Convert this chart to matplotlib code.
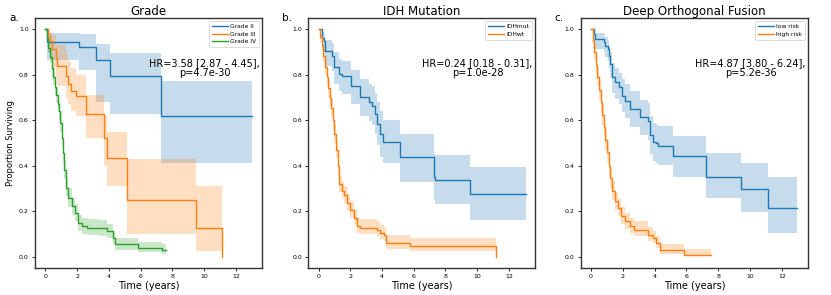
import matplotlib
matplotlib.use("Agg")
import matplotlib.pyplot as plt

# ---------------- Data ----------------
# Panel a: Grade
g2_t  = [0, 0.1, 2.14, 3.17, 4.08, 7.29, 13.0]
g2_s  = [1.0, 0.945, 0.923, 0.865, 0.797, 0.62, 0.62]
g2_lo = [1.0, 0.865, 0.82, 0.68, 0.626, 0.41, 0.41]
g2_hi = [1.0, 0.985, 0.98, 0.937, 0.894, 0.772, 0.772]

g3_t  = [0, 0.15, 0.3, 0.45, 0.65, 0.72, 1.28, 1.45, 1.62, 1.91, 2.55, 3.7, 3.87, 5.13, 9.52, 11.15]
g3_s  = [1.0, 0.971, 0.949, 0.913, 0.876, 0.84, 0.796, 0.76, 0.73, 0.709, 0.629, 0.52, 0.432, 0.25, 0.125, 0.0]
g3_lo = [1.0, 0.90, 0.87, 0.83, 0.79, 0.75, 0.70, 0.67, 0.64, 0.62, 0.52, 0.40, 0.31, 0.10, 0.025, 0.025]
g3_hi = [1.0, 0.995, 0.99, 0.975, 0.95, 0.93, 0.89, 0.86, 0.83, 0.80, 0.71, 0.62, 0.55, 0.43, 0.31, 0.31]

g4_t  = [0, 0.1, 0.19, 0.3, 0.4, 0.5, 0.61, 0.7, 0.8, 0.86, 0.95, 1.05, 1.14, 1.2, 1.28, 1.45,
         1.66, 1.87, 2.08, 2.29, 2.6, 3.45, 3.87, 4.29, 4.39, 5.86, 7.33, 7.59]
g4_s  = [1.0, 0.96, 0.92, 0.88, 0.83, 0.79, 0.745, 0.71, 0.67, 0.643, 0.59, 0.52, 0.454, 0.38, 0.304, 0.258,
         0.221, 0.192, 0.148, 0.134, 0.128, 0.125, 0.112, 0.083, 0.054, 0.039, 0.029, 0.029]
g4_hi = [1.0, 0.975, 0.945, 0.91, 0.865, 0.825, 0.78, 0.745, 0.705, 0.68, 0.63, 0.56, 0.495, 0.42, 0.345, 0.30,
         0.26, 0.23, 0.185, 0.17, 0.165, 0.16, 0.145, 0.115, 0.08, 0.065, 0.055, 0.055]
g4_lo = [1.0, 0.94, 0.895, 0.85, 0.795, 0.755, 0.71, 0.675, 0.635, 0.605, 0.55, 0.48, 0.415, 0.34, 0.265, 0.22,
         0.185, 0.155, 0.115, 0.10, 0.095, 0.092, 0.08, 0.055, 0.03, 0.02, 0.012, 0.012]

# Panel b: IDH mutation
mut_t  = [0, 0.21, 0.32, 0.42, 0.85, 0.95, 1.26, 1.48, 2.04, 2.63, 3.16, 3.37, 3.58, 3.69, 3.85, 4.07,
          5.16, 7.31, 7.37, 9.54, 13.06]
mut_s  = [1.0, 0.964, 0.95, 0.905, 0.884, 0.833, 0.803, 0.793, 0.75, 0.702, 0.68, 0.665, 0.629, 0.585, 0.541, 0.505,
          0.44, 0.352, 0.338, 0.275, 0.275]
mut_hi = [1.0, 0.99, 0.985, 0.955, 0.94, 0.9, 0.87, 0.86, 0.82, 0.78, 0.76, 0.75, 0.72, 0.68, 0.64, 0.6,
          0.54, 0.45, 0.447, 0.396, 0.396]
mut_lo = [1.0, 0.92, 0.9, 0.84, 0.815, 0.76, 0.73, 0.715, 0.67, 0.62, 0.595, 0.58, 0.54, 0.49, 0.44, 0.41,
          0.33, 0.25, 0.23, 0.163, 0.163]

wt_t  = [0, 0.1, 0.2, 0.3, 0.4, 0.5, 0.6, 0.7, 0.8, 0.9, 1.0, 1.1, 1.2, 1.3, 1.45, 1.58, 1.79, 2.0, 2.21,
         2.42, 2.63, 3.69, 3.9, 4.1, 4.28, 5.79, 11.16]
wt_s  = [1.0, 0.965, 0.93, 0.885, 0.835, 0.79, 0.74, 0.70, 0.655, 0.60, 0.54, 0.47, 0.40, 0.32, 0.29, 0.272,
         0.236, 0.207, 0.17, 0.134, 0.127, 0.119, 0.105, 0.095, 0.061, 0.047, 0.0]
wt_hi = [1.0, 0.98, 0.95, 0.91, 0.865, 0.82, 0.775, 0.735, 0.69, 0.64, 0.58, 0.51, 0.44, 0.36, 0.33, 0.31,
         0.275, 0.245, 0.205, 0.17, 0.165, 0.155, 0.14, 0.13, 0.095, 0.083, 0.083]
wt_lo = [1.0, 0.945, 0.905, 0.855, 0.80, 0.755, 0.70, 0.66, 0.615, 0.56, 0.50, 0.43, 0.36, 0.285, 0.255, 0.235,
         0.2, 0.172, 0.138, 0.104, 0.098, 0.09, 0.078, 0.068, 0.035, 0.025, 0.025]

# Panel c: Deep Orthogonal Fusion
low_t  = [0, 0.16, 0.27, 0.79, 0.9, 1.04, 1.1, 1.21, 1.31, 1.52, 1.73, 1.94, 2.14, 2.46, 3.08, 3.6, 3.7,
          3.91, 4.1, 4.23, 5.16, 7.25, 9.42, 11.1, 12.94]
low_s  = [1.0, 0.978, 0.956, 0.945, 0.927, 0.913, 0.884, 0.847, 0.789, 0.767, 0.745, 0.709, 0.687, 0.651,
          0.614, 0.595, 0.534, 0.505, 0.498, 0.488, 0.444, 0.352, 0.298, 0.214, 0.214]
low_hi = [1.0, 0.995, 0.985, 0.98, 0.965, 0.955, 0.93, 0.9, 0.85, 0.83, 0.81, 0.78, 0.76, 0.73, 0.69, 0.675,
          0.62, 0.59, 0.583, 0.575, 0.53, 0.454, 0.41, 0.352, 0.352]
low_lo = [1.0, 0.94, 0.915, 0.9, 0.88, 0.86, 0.83, 0.79, 0.72, 0.695, 0.67, 0.635, 0.61, 0.57, 0.535, 0.515,
          0.45, 0.42, 0.41, 0.403, 0.352, 0.258, 0.196, 0.102, 0.102]

high_t  = [0, 0.1, 0.2, 0.3, 0.4, 0.5, 0.6, 0.7, 0.8, 0.9, 1.0, 1.1, 1.2, 1.3, 1.5, 1.7, 1.9, 2.14, 2.46,
           2.67, 3.6, 3.91, 4.1, 4.33, 5.85, 7.56]
high_s  = [1.0, 0.95, 0.9, 0.845, 0.79, 0.735, 0.68, 0.625, 0.57, 0.515, 0.46, 0.40, 0.345, 0.29, 0.245,
           0.214, 0.18, 0.156, 0.134, 0.119, 0.097, 0.083, 0.061, 0.028, 0.007, 0.007]
high_hi = [1.0, 0.97, 0.93, 0.88, 0.83, 0.78, 0.725, 0.67, 0.615, 0.56, 0.505, 0.445, 0.39, 0.335, 0.285,
           0.255, 0.22, 0.19, 0.17, 0.155, 0.13, 0.115, 0.09, 0.055, 0.035, 0.035]
high_lo = [1.0, 0.92, 0.865, 0.81, 0.75, 0.69, 0.635, 0.58, 0.525, 0.47, 0.415, 0.355, 0.30, 0.25, 0.205,
           0.177, 0.145, 0.122, 0.103, 0.09, 0.07, 0.058, 0.038, 0.012, 0.001, 0.001]

titles = ["Grade", "IDH Mutation", "Deep Orthogonal Fusion"]
panel_labels = ["a.", "b.", "c."]
hr_texts = ["HR=3.58 [2.87 - 4.45],\np=4.7e-30",
            "HR=0.24 [0.18 - 0.31],\np=1.0e-28",
            "HR=4.87 [3.80 - 6.24],\np=5.2e-36"]
x_ticks = [0, 2, 4, 6, 8, 10, 12]
y_ticks = [0.0, 0.2, 0.4, 0.6, 0.8, 1.0]

panels = [
    [("Grade II", g2_t, g2_s, g2_lo, g2_hi),
     ("Grade III", g3_t, g3_s, g3_lo, g3_hi),
     ("Grade IV", g4_t, g4_s, g4_lo, g4_hi)],
    [("IDHmut", mut_t, mut_s, mut_lo, mut_hi),
     ("IDHwt", wt_t, wt_s, wt_lo, wt_hi)],
    [("low risk", low_t, low_s, low_lo, low_hi),
     ("high risk", high_t, high_s, high_lo, high_hi)],
]
colors = ["#1f77b4", "#ff7f0e", "#2ca02c"]

# ---------------- Figure ----------------
W, H = 831, 295
fig = plt.figure(figsize=(W / 100, H / 100), dpi=100)
lefts = [35, 308.3, 580.7]
widths = [227, 226.7, 227.5]
ax_bottom, ax_top = 268, 18

for i in range(3):
    ax = fig.add_axes([lefts[i] / W, (H - ax_bottom) / H, widths[i] / W, (ax_bottom - ax_top) / H])
    for j, (name, t, s, lo, hi) in enumerate(panels[i]):
        c = colors[j]
        ax.fill_between(t, lo, hi, step="post", color=c, alpha=0.25, linewidth=0)
        ax.step(t, s, where="post", color=c, linewidth=1.0, label=name)
    ax.set_xlim(-0.65, 13.65)
    ax.set_ylim(-0.05, 1.05)
    ax.set_xticks(x_ticks)
    ax.set_yticks(y_ticks)
    ax.set_yticklabels([f"{v:.1f}" for v in y_ticks])
    ax.tick_params(labelsize=4.5, length=2.5, width=0.6, pad=2)
    for sp in ax.spines.values():
        sp.set_linewidth(1.0)
        sp.set_color("#333333")
    ax.set_title(titles[i], fontsize=8.5, pad=1.8)
    ax.set_xlabel("Time (years)", fontsize=7, labelpad=1)
    if i == 0:
        ax.set_ylabel("Proportion Surviving", fontsize=6)
        ax.yaxis.set_label_coords((15 - lefts[0]) / widths[0], 0.5)
    ax.text(0.747, 0.80, hr_texts[i], transform=ax.transAxes, ha="center", va="center",
            multialignment="center", fontsize=7, linespacing=1.1)
    leg = ax.legend(loc="upper right", fontsize=4.3, handlelength=2.6, borderpad=0.5,
                    labelspacing=0.4, handletextpad=0.4, framealpha=0.8)
    leg.get_frame().set_linewidth(0.6)
    fig.text((lefts[i] - 26) / W, 1 - 21 / H, panel_labels[i], fontsize=7.5, ha="left", va="baseline")

fig.savefig("out.png", dpi=100)
